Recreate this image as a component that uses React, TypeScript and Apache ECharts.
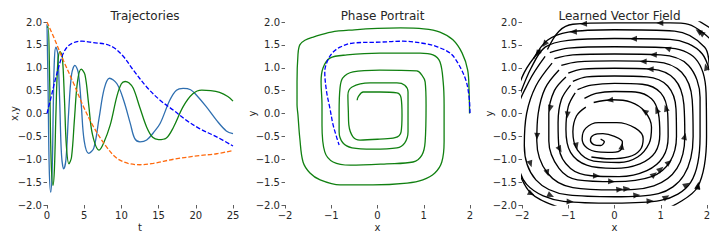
import React, { useEffect, useRef } from "react";
import * as echarts from "echarts";

// ---------- Trajectories (t, value) ----------
const trueX: number[][] = [
  [0, 2.0], [0.9, 1.67], [2.2, 1.16], [3.6, 0.65], [4.9, 0.15], [6.25, -0.29], [8.0, -0.73],
  [9.4, -0.98], [10.9, -1.09], [12.5, -1.12], [14.3, -1.09], [17, -1.0], [20.5, -0.92],
  [22.8, -0.88], [25, -0.81],
];
const trueY: number[][] = [
  [0, 0.0], [0.45, 0.29], [1.1, 0.73], [2.0, 1.24], [2.7, 1.45], [3.6, 1.55], [4.7, 1.58],
  [6.25, 1.55], [8.0, 1.51], [9.15, 1.42], [10.3, 1.24], [11.6, 0.95], [13.4, 0.58],
  [15.2, 0.29], [17, 0.07], [18.75, -0.15], [20.5, -0.33], [22.8, -0.51], [25, -0.71],
];
const learnedX: number[][] = [
  [0, 1.95], [0.15, 0.5], [0.3, -1.2], [0.5, -1.72], [0.7, -1.2], [0.85, 0.2], [1.0, 1.2],
  [1.2, 1.45], [1.45, 1.3], [1.7, 0.3], [1.95, -0.9], [2.25, -1.21], [2.55, -1.0], [2.9, 0.0],
  [3.3, 0.85], [3.75, 1.05], [4.2, 0.9], [4.6, 0.2], [5.0, -0.6], [5.6, -0.87], [6.3, -0.75],
  [7.0, -0.1], [7.7, 0.55], [8.4, 0.77], [9.4, 0.65], [10.3, 0.29], [11.2, -0.22],
  [11.8, -0.55], [12.5, -0.62], [13.4, -0.58], [14.3, -0.42], [15.2, -0.22], [16.5, 0.29],
  [17.4, 0.51], [18.3, 0.55], [19.3, 0.52], [20.1, 0.4], [21.4, 0.15], [22.8, -0.15],
  [24.1, -0.38], [25, -0.44],
];
const learnedY: number[][] = [
  [0, 1.88], [0.15, 1.9], [0.35, 0.8], [0.55, -1.0], [0.8, -1.57], [1.0, -1.2], [1.2, 0.0],
  [1.45, 1.1], [1.75, 1.35], [2.05, 1.25], [2.35, 0.3], [2.6, -0.7], [2.95, -1.1], [3.3, -0.95],
  [3.7, -0.1], [4.1, 0.7], [4.6, 0.97], [5.1, 0.85], [5.6, 0.2], [6.1, -0.45], [7.0, -0.8],
  [7.6, -0.65], [8.5, -0.25], [9.4, 0.38], [10.0, 0.65], [10.5, 0.7], [11.0, 0.67],
  [11.6, 0.55], [12.5, 0.12], [13.4, -0.3], [14.2, -0.52], [15.0, -0.57], [16.0, -0.54],
  [17.0, -0.3], [18.3, 0.15], [19.6, 0.43], [20.8, 0.51], [22.0, 0.5], [23.2, 0.46],
  [24.3, 0.37], [25, 0.27],
];

// ---------- Phase portrait (x, y) ----------
const phaseTrue: number[][] = [
  [2.0, 0.01], [1.98, 0.36], [1.91, 0.73], [1.74, 1.1], [1.57, 1.32], [1.31, 1.45], [1.07, 1.52],
  [0.55, 1.58], [0.05, 1.56], [-0.53, 1.54], [-0.81, 1.45], [-0.98, 1.32], [-1.09, 1.13],
  [-1.14, 0.91], [-1.1, 0.47], [-1.03, 0.12], [-0.96, -0.25], [-0.88, -0.53], [-0.83, -0.69],
];
const phaseLearned: number[][] = [
  [1.99, 0.0], [1.98, 0.5], [1.95, 0.95], [1.83, 1.32], [1.63, 1.61], [1.35, 1.78], [1.0, 1.85],
  [0.5, 1.87], [0.0, 1.86], [-0.5, 1.83], [-1.0, 1.78], [-1.39, 1.67], [-1.57, 1.6],
  [-1.68, 1.5], [-1.72, 1.28], [-1.74, 0.69], [-1.74, 0.19], [-1.72, -0.03], [-1.68, -0.54],
  [-1.61, -1.06], [-1.46, -1.3], [-1.24, -1.45], [-0.81, -1.56], [-0.1, -1.56], [0.64, -1.52],
  [0.98, -1.45], [1.24, -1.3], [1.39, -1.06], [1.44, -0.62], [1.44, 0.19], [1.42, 0.69],
  [1.35, 1.13], [1.2, 1.28], [0.92, 1.32], [0.05, 1.32], [-0.66, 1.28], [-1.03, 1.21],
  [-1.18, 0.99], [-1.22, 0.69], [-1.2, 0.19], [-1.2, -0.25], [-1.14, -0.84], [-0.96, -1.06],
  [-0.59, -1.13], [0.2, -1.1], [0.77, -1.06], [0.96, -0.91], [1.03, -0.62], [1.05, 0.19],
  [1.03, 0.69], [0.96, 0.84], [0.85, 0.93], [0.05, 0.95], [-0.53, 0.91], [-0.75, 0.78],
  [-0.81, 0.56], [-0.83, 0.03], [-0.83, -0.4], [-0.75, -0.64], [-0.55, -0.75], [-0.1, -0.78],
  [0.42, -0.75], [0.59, -0.64], [0.66, -0.4], [0.66, 0.19], [0.66, 0.47], [0.59, 0.62],
  [0.42, 0.67], [-0.16, 0.67], [-0.55, 0.58], [-0.64, 0.4], [-0.63, 0.03], [-0.62, -0.25],
  [-0.53, -0.51], [-0.38, -0.58], [0.05, -0.56], [0.38, -0.53], [0.51, -0.4], [0.53, -0.03],
  [0.51, 0.34], [0.42, 0.45], [0.05, 0.47], [-0.31, 0.47], [-0.42, 0.36], [-0.44, 0.29],
];

// ---------- Learned vector field: streamlines (x, y), in flow order ----------
const streamlines: number[][][] = [
  [[-0.5, -0.95], [-0.1, -0.99], [0.3, -0.95], [0.55, -0.8], [0.62, -0.55], [0.45, -0.32],
   [0.05, -0.2], [-0.35, -0.2], [-0.62, -0.32], [-0.7, -0.55], [-0.6, -0.75], [-0.35, -0.84],
   [-0.05, -0.85], [0.15, -0.78], [0.17, -0.62], [0.0, -0.5], [-0.25, -0.44], [-0.45, -0.47],
   [-0.52, -0.58], [-0.45, -0.68], [-0.3, -0.7], [-0.22, -0.62], [-0.3, -0.56]],
  [[-0.62, 0.14], [-0.82, -0.05], [-0.9, -0.4], [-0.8, -0.8], [-0.45, -1.04], [0.1, -1.07],
   [0.5, -0.95], [0.75, -0.65], [0.8, -0.3], [0.65, 0.05], [0.35, 0.25], [-0.05, 0.3], [-0.45, 0.24]],
  [[-0.85, 0.45], [-1.0, 0.15], [-1.05, -0.35], [-0.95, -0.85], [-0.6, -1.13], [0.0, -1.2],
   [0.55, -1.1], [0.88, -0.85], [0.98, -0.45], [0.95, 0.0], [0.8, 0.32], [0.45, 0.47], [0.0, 0.48],
   [-0.4, 0.44], [-0.65, 0.33]],
  [[-0.95, 0.62], [-1.15, 0.3], [-1.22, -0.2], [-1.2, -0.75], [-0.95, -1.2], [-0.5, -1.36],
   [0.1, -1.38], [0.7, -1.25], [1.05, -0.95], [1.16, -0.5], [1.15, 0.0], [1.0, 0.45], [0.6, 0.64],
   [0.0, 0.66], [-0.5, 0.62], [-0.8, 0.52]],
  [[-1.05, 0.8], [-1.3, 0.5], [-1.42, 0.0], [-1.42, -0.6], [-1.2, -1.2], [-0.8, -1.45], [0.0, -1.49],
   [0.8, -1.38], [1.2, -1.05], [1.34, -0.5], [1.33, 0.1], [1.15, 0.6], [0.7, 0.8], [0.0, 0.82],
   [-0.6, 0.8], [-0.9, 0.7]],
  [[-1.2, 0.95], [-1.5, 0.55], [-1.65, 0.0], [-1.68, -0.6], [-1.45, -1.3], [-0.9, -1.62], [0.0, -1.67],
   [0.85, -1.58], [1.35, -1.2], [1.52, -0.5], [1.5, 0.2], [1.3, 0.75], [0.8, 0.97], [0.0, 0.99],
   [-0.7, 0.97], [-1.0, 0.88]],
  [[-1.35, 1.1], [-1.7, 0.6], [-1.9, 0.0], [-1.95, -0.7], [-1.7, -1.45], [-1.0, -1.78], [0.0, -1.82],
   [0.95, -1.75], [1.5, -1.35], [1.7, -0.5], [1.68, 0.3], [1.45, 0.9], [0.9, 1.13], [0.0, 1.15],
   [-0.8, 1.13], [-1.15, 1.05]],
  [[-1.5, 1.25], [-1.85, 0.7], [-2.1, 0.0], [-2.1, -0.8], [-1.9, -1.55], [-1.1, -1.92], [0.0, -1.96],
   [1.0, -1.9], [1.65, -1.5], [1.85, -0.5], [1.85, 0.35], [1.6, 1.05], [1.0, 1.28], [0.0, 1.3],
   [-0.9, 1.28], [-1.3, 1.2]],
  [[-1.6, 1.4], [-1.95, 0.9], [-2.2, 0.2]],
  [[-2.1, -1.2], [-1.8, -1.75], [-1.2, -2.05]],
  [[1.2, -2.05], [1.8, -1.6], [1.99, -0.5], [1.98, 0.45], [1.75, 1.2], [1.1, 1.44], [0.0, 1.46],
   [-1.0, 1.43], [-1.4, 1.33]],
  [[2.15, 0.4], [1.9, 1.3], [1.2, 1.62], [0.0, 1.64], [-1.0, 1.6], [-1.5, 1.45], [-1.8, 1.0],
   [-2.05, 0.4]],
  [[2.05, 1.0], [1.95, 1.45], [1.3, 1.8], [0.0, 1.83], [-1.0, 1.78], [-1.45, 1.6], [-1.75, 1.2]],
  [[2.1, 1.6], [1.6, 1.95], [1.2, 1.98], [0.0, 1.98], [-0.9, 1.95], [-1.2, 1.8], [-1.45, 1.4]],
  [[2.1, 1.85], [1.7, 2.1]],
];
const arrowPoints: number[][] = [
  [-0.67, 1.96], [0.98, 1.96], [-0.89, 1.79], [0.41, 1.64], [0.84, 1.32], [0.62, 1.17],
  [0.77, 0.95], [1.13, 1.39], [-0.1, 0.26], [-1.68, 1.64], [-1.97, 1.53], [-1.4, 0.11],
  [-1.03, -0.03], [-1.65, -0.5], [-1.21, -0.8], [-0.85, -0.72], [-1.9, -1.13], [-1.54, -1.38],
  [-0.39, -1.38], [-0.06, -1.45], [0.26, -1.6], [0.12, -1.71], [0.48, -1.75], [0.84, -1.31],
  [1.02, -1.24], [1.2, -1.09], [1.52, -1.49], [1.6, -0.5], [1.2, 0.15], [0.7, 0.11],
  [0.98, 0.11], [1.99, 1.02], [1.81, 1.79], [1.92, 1.83], [1.88, -1.6], [1.99, -1.6],
  [0.19, -0.72], [-1.83, -1.82], [-0.96, -1.93], [-1.39, -1.82], [0.77, -1.93], [1.16, -1.89],
];

const FONT = "DejaVu Sans";
const TXT = "#262626";
const minus = (s: string) => s.replace("-", "\u2212");

function nearestDir(p: number[]): { pos: number[]; ang: number } {
  let best = { d: Infinity, pos: p, ang: 0 };
  for (const line of streamlines) {
    for (let i = 0; i < line.length - 1; i++) {
      const a = line[i], b = line[i + 1];
      const dx = b[0] - a[0], dy = b[1] - a[1];
      const L2 = dx * dx + dy * dy;
      let t = ((p[0] - a[0]) * dx + (p[1] - a[1]) * dy) / L2;
      t = Math.max(0, Math.min(1, t));
      const q = [a[0] + t * dx, a[1] + t * dy];
      const d = Math.hypot(p[0] - q[0], p[1] - q[1]);
      if (d < best.d) best = { d, pos: q, ang: (Math.atan2(dy, dx) * 180) / Math.PI };
    }
  }
  return { pos: best.pos, ang: best.ang };
}

export default function App() {
  const ref = useRef<HTMLDivElement>(null);
  useEffect(() => {
    if (!ref.current) return;
    const chart = echarts.init(ref.current, null, { renderer: "svg" });
    const grids = [
      { left: 47, top: 22, width: 186, height: 183 },
      { left: 285, top: 22, width: 185, height: 183 },
      { left: 522, top: 22, width: 185, height: 183 },
    ];
    const tick = { show: true, length: 3.5, lineStyle: { color: "#333", width: 0.8 } };
    const lbl = (fmt: (v: number) => string) => ({
      color: TXT, fontSize: 10, fontFamily: FONT, margin: 5, formatter: fmt,
    });
    const yAxisBase = (gi: number, name: string) => ({
      type: "value", gridIndex: gi, min: -2, max: 2, interval: 0.5,
      axisLine: { show: false, onZero: false }, axisTick: tick, splitLine: { show: false },
      axisLabel: lbl((v: number) => minus(v.toFixed(1))),
      name, nameLocation: "middle", nameGap: 28, nameMoveOverlap: false,
      nameTextStyle: { color: TXT, fontSize: 10, fontFamily: FONT },
    });
    const xAxisBase = (gi: number, name: string, min: number, max: number, interval: number) => ({
      type: "value", gridIndex: gi, min, max, interval,
      axisLine: { show: false, onZero: false }, axisTick: tick, splitLine: { show: false },
      axisLabel: lbl((v: number) => minus(String(v))),
      name, nameLocation: "middle", nameGap: 17, nameMoveOverlap: false,
      nameTextStyle: { color: TXT, fontSize: 10, fontFamily: FONT },
    });
    const lineS = (xi: number, data: number[][], color: string, dashed: boolean, width = 1.3) => ({
      type: "line", xAxisIndex: xi, yAxisIndex: xi, data, showSymbol: false, symbol: "none",
      smooth: 0.35, clip: true,
      lineStyle: { color, width, type: dashed ? [4.5, 2] : "solid" },
    });
    const arrows = arrowPoints.map((p) => {
      const r = nearestDir(p);
      return { value: r.pos, symbolRotate: r.ang };
    });
    const series: any[] = [
      lineS(0, learnedX, "#2f6fb0", false),
      lineS(0, learnedY, "#118011", false),
      lineS(0, trueY, "#0000ff", true),
      lineS(0, trueX, "#ff6a0e", true),
      lineS(1, phaseLearned, "#118011", false),
      lineS(1, phaseTrue, "#0000ff", true),
      ...streamlines.map((s) => lineS(2, s, "#000", false, 1.35)),
      {
        type: "scatter", xAxisIndex: 2, yAxisIndex: 2, data: arrows,
        symbol: "path://M0,0 L10,5 L0,10 Z", symbolSize: [7, 6],
        itemStyle: { color: "#000" }, clip: true, z: 5,
      },
    ];
    chart.setOption({
      animation: false,
      backgroundColor: "#fff",
      title: [
        { text: "Trajectories", left: 140, top: 5 },
        { text: "Phase Portrait", left: 377.5, top: 5 },
        { text: "Learned Vector Field", left: 614.5, top: 5 },
      ].map((t) => ({
        ...t, textAlign: "center",
        textStyle: { fontSize: 12, fontWeight: "normal", color: TXT, fontFamily: FONT },
      })),
      grid: grids,
      xAxis: [
        xAxisBase(0, "t", 0, 25, 5),
        xAxisBase(1, "x", -2, 2, 1),
        xAxisBase(2, "x", -2, 2, 1),
      ],
      yAxis: [yAxisBase(0, "x,y"), yAxisBase(1, "y"), yAxisBase(2, "y")],
      series,
    });
    return () => chart.dispose();
  }, []);
  return (
    <div
      ref={ref}
      style={{ position: "absolute", left: 0, top: 0, width: 720, height: 240 }}
    />
  );
}
